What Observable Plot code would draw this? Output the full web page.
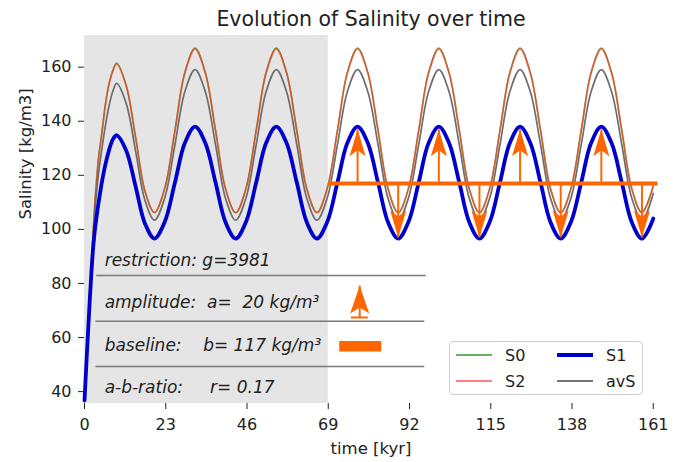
<!DOCTYPE html>
<html>
<head>
<meta charset="utf-8">
<script src="https://cdn.jsdelivr.net/npm/d3@7"></script>
<script src="https://cdn.jsdelivr.net/npm/@observablehq/plot@0.6"></script>
<style>
  body { margin: 0; background: white; }
  #wrap { position: relative; width: 686px; height: 462px; font-family: "DejaVu Sans", sans-serif; }
  svg text { white-space: pre; }
  #legend { position: absolute; left: 449px; top: 341px; width: 194px; height: 54px;
    border: 1px solid #cfcfcf; border-radius: 4px; background: rgba(255,255,255,0.85);
    box-sizing: border-box; font-size: 16px; color: #222; }
  .item { position: absolute; display: flex; align-items: center; height: 20px; }
  .item span.sw { display: inline-block; width: 36px; margin-right: 13px; }
</style>
</head>
<body>
<div id="wrap"></div>
<script>
// ---- data ----
const time = [0,0.5,1,1.5,2,2.5,3,3.5,4,5,6,7,8,9.1,11.8,14.5,17.1,
  19.8,22.7,25.6,28.4,31.3,34.2,37.1,39.9,
  42.8,45.7,48.6,51.4,54.3,57.2,60.1,62.9,
  65.8,68.7,71.6,74.4,77.3,80.2,83.1,85.9,
  88.8,91.7,94.6,97.4,100.3,103.2,106.1,108.9,
  111.8,114.7,117.6,120.4,123.3,126.2,129.1,131.9,
  134.8,137.7,140.6,143.4,146.3,149.2,152.1,154.9,
  157.8,161];

const S1 = [36.7,49.5,62,74,85,94,100.5,105.5,110,118,124.5,129.5,133.2,134.8,129.2,115.7,102.2,
  96.6,102.7,117.3,131.9,138.0,131.9,117.3,102.7,
  96.6,102.7,117.3,131.9,138.0,131.9,117.3,102.7,
  96.6,102.7,117.3,131.9,138.0,131.9,117.3,102.7,
  96.6,102.7,117.3,131.9,138.0,131.9,117.3,102.7,
  96.6,102.7,117.3,131.9,138.0,131.9,117.3,102.7,
  96.6,102.7,117.3,131.9,138.0,131.9,117.3,102.7,
  96.6,104.0];

const S2 = [36.7,50,62.5,75.5,88,100,111,119.5,126.5,136.5,147,154,158.5,161.1,153.1,133.7,114.2,
  106.2,115.1,136.5,157.8,166.7,157.8,136.5,115.1,
  106.2,115.1,136.5,157.8,166.7,157.8,136.5,115.1,
  106.2,115.1,136.5,157.8,166.7,157.8,136.5,115.1,
  106.2,115.1,136.5,157.8,166.7,157.8,136.5,115.1,
  106.2,115.1,136.5,157.8,166.7,157.8,136.5,115.1,
  106.2,115.1,136.5,157.8,166.7,157.8,136.5,115.1,
  106.2,116.0];

const S0 = [36.7,50,62.5,75.5,88,100,111,119.5,126.5,136.5,147,154.1,158.7,161.5,153.2,133.8,114.2,
  106.2,115.1,136.6,158.0,167.1,158.0,136.6,115.1,
  106.2,115.1,136.6,158.0,167.1,158.0,136.6,115.1,
  106.2,115.1,136.6,158.0,167.1,158.0,136.6,115.1,
  106.2,115.1,136.6,158.0,167.1,158.0,136.6,115.1,
  106.2,115.1,136.6,158.0,167.1,158.0,136.6,115.1,
  106.2,115.1,136.6,158.0,167.1,158.0,136.6,115.1,
  106.2,116.0];

const avS = [36.7,49.8,62.3,75,87,97.5,107.5,115,121,130.5,139,146,151,154,146.6,128.7,110.8,
  103.4,111.6,131.3,150.9,159.1,150.9,131.3,111.6,
  103.4,111.6,131.3,150.9,159.1,150.9,131.3,111.6,
  103.4,111.6,131.3,150.9,159.1,150.9,131.3,111.6,
  103.4,111.6,131.3,150.9,159.1,150.9,131.3,111.6,
  103.4,111.6,131.3,150.9,159.1,150.9,131.3,111.6,
  103.4,111.6,131.3,150.9,159.1,150.9,131.3,111.6,
  103.4,113.3];

const xTicks = [0,23,46,69,92,115,138,161];
const yTicks = [40,60,80,100,120,140,160];

// restricted period (shaded) and forcing annotation
const shadeStart = [0], shadeEnd = [69];
const baselineValue = 117;            // b
const baselineStart = [69], baselineEnd = [162.2];
const upTimes = [77.3,100.3,123.3,146.3], upTips = [137,137,137,137];
const downTimes = [88.8,111.8,134.8,157.8], downTips = [97,97,97,97];

// parameter box
const boxLabels = ["restriction: g=3981", "amplitude:  a=  20 kg/m³", "baseline:    b= 117 kg/m³", "a-b-ratio:     r= 0.17"];
const boxLabelY = [88.6, 73.1, 56.9, 41.5];
const boxLabelX = [5.7, 5.7, 5.7, 5.7];
const boxRuleY = [82.9, 66.0, 49.3];
const boxRuleX1 = [3.3, 3.1, 3.1], boxRuleX2 = [96.6, 96.2, 96.2];
// legend symbols in the box
const ampKey = {t: 77.9, from: 67.4, to: 79.2, barFrom: 75.4, barTo: 80.2};
const baseKey = {from: 72.1, to: 84.0, y: 56.8};

const title = "Evolution of Salinity over time";
const xLabel = "time [kyr]";
const yLabel = "Salinity [kg/m3]";

// ---- build ----
const rows = time.map((t, i) => ({t, S0: S0[i], S1: S1[i], S2: S2[i], avS: avS[i]}));
const ups = upTimes.map((t, i) => ({t, tip: upTips[i]}));
const downs = downTimes.map((t, i) => ({t, tip: downTips[i]}));
const box = boxLabels.map((label, i) => ({label, x: boxLabelX[i], y: boxLabelY[i]}));
const rules = boxRuleY.map((y, i) => ({y, x1: boxRuleX1[i], x2: boxRuleX2[i]}));
const shade = shadeStart.map((s, i) => ({s, e: shadeEnd[i]}));
const baseSeg = baselineStart.map((s, i) => ({s, e: baselineEnd[i], y: baselineValue}));

const orange = "#ff6600";
const headUp = {draw(ctx) { ctx.moveTo(0, 0); ctx.lineTo(8, 27); ctx.lineTo(0, 21); ctx.lineTo(-8, 27); ctx.closePath(); }};
const headDown = {draw(ctx) { ctx.moveTo(0, 0); ctx.lineTo(8, -27); ctx.lineTo(0, -21); ctx.lineTo(-8, -27); ctx.closePath(); }};
const headKey = {draw(ctx) { ctx.moveTo(0, 0); ctx.lineTo(9.5, 28); ctx.lineTo(0, 22); ctx.lineTo(-9.5, 28); ctx.closePath(); }};

const plot = Plot.plot({
  width: 686, height: 462,
  marginLeft: 84, marginRight: 29, marginTop: 35, marginBottom: 59,
  style: {fontFamily: "DejaVu Sans, sans-serif", fontSize: "16px", color: "#222", background: "white", overflow: "visible"},
  x: {domain: [0, 162.2], ticks: xTicks, tickSize: 6, tickPadding: 9, label: null},
  y: {domain: [35.6, 171.7], ticks: yTicks, tickSize: 6, tickPadding: 7, label: null},
  marks: [
    Plot.rect(shade, {x1: "s", x2: "e", fill: "#e5e5e5"}),
    Plot.link(rules, {x1: "x1", x2: "x2", y1: "y", y2: "y", stroke: "#7a7a7a", strokeWidth: 1.5}),
    Plot.text(box, {x: "x", y: "y", text: "label", textAnchor: "start", fontStyle: "italic", fontSize: 17, fill: "#222"}),
    Plot.line(rows, {x: "t", y: "S0", stroke: "green", strokeOpacity: 0.6, strokeWidth: 1.5, curve: "catmull-rom"}),
    Plot.line(rows, {x: "t", y: "S2", stroke: "#ff3010", strokeOpacity: 0.62, strokeWidth: 1.8, curve: "catmull-rom"}),
    Plot.line(rows, {x: "t", y: "avS", stroke: "#666", strokeOpacity: 0.95, strokeWidth: 1.7, curve: "catmull-rom"}),
    Plot.line(rows, {x: "t", y: "S1", stroke: "#0000cc", strokeWidth: 3.8, curve: "catmull-rom"}),
    Plot.link(baseSeg, {x1: "s", x2: "e", y1: "y", y2: "y", stroke: orange, strokeWidth: 4}),
    Plot.link(ups, {x1: "t", x2: "t", y1: () => baselineValue, y2: "tip", stroke: orange, strokeWidth: 2}),
    Plot.link(downs, {x1: "t", x2: "t", y1: () => baselineValue, y2: "tip", stroke: orange, strokeWidth: 2}),
    Plot.dot(ups, {x: "t", y: "tip", symbol: headUp, fill: orange, stroke: null}),
    Plot.dot(downs, {x: "t", y: "tip", symbol: headDown, fill: orange, stroke: null}),
    // amplitude key arrow
    Plot.link([ampKey], {x1: "t", x2: "t", y1: "from", y2: "to", stroke: orange, strokeWidth: 2}),
    Plot.link([ampKey], {x1: "barFrom", x2: "barTo", y1: "from", y2: "from", stroke: orange, strokeWidth: 2}),
    Plot.dot([ampKey], {x: "t", y: "to", symbol: headKey, fill: orange, stroke: null}),
    // baseline key bar
    Plot.link([baseKey], {x1: "from", x2: "to", y1: "y", y2: "y", stroke: orange, strokeWidth: 10.5}),
    // titles
    Plot.text([title], {frameAnchor: "top", dy: -10, lineAnchor: "bottom", fontSize: 20.5, fill: "#222"}),
    Plot.text([xLabel], {frameAnchor: "bottom", dy: 50, lineAnchor: "bottom", fontSize: 16.5, fill: "#222"}),
    Plot.text([yLabel], {frameAnchor: "left", dx: -58.3, rotate: -90, fontSize: 16.5, fill: "#222"})
  ]
});

const wrap = document.getElementById("wrap");
wrap.appendChild(plot);

// legend
const legendItems = [
  {name: "S0", color: "green", opacity: 0.6, width: 1.5, col: 0, row: 0},
  {name: "S1", color: "#0000cc", opacity: 1, width: 4, col: 1, row: 0},
  {name: "S2", color: "red", opacity: 0.5, width: 2, col: 0, row: 1},
  {name: "avS", color: "#666", opacity: 0.9, width: 2, col: 1, row: 1}
];
const lg = document.createElement("div");
lg.id = "legend";
for (const it of legendItems) {
  const d = document.createElement("div");
  d.className = "item";
  d.style.left = (it.col ? 107 : 6) + "px";
  d.style.top = (it.row ? 29 : 3) + "px";
  const sw = document.createElement("span");
  sw.className = "sw";
  sw.style.height = it.width + "px";
  sw.style.background = it.color;
  sw.style.opacity = it.opacity;
  d.appendChild(sw);
  const tx = document.createElement("span");
  tx.textContent = it.name;
  d.appendChild(tx);
  lg.appendChild(d);
}
wrap.appendChild(lg);
</script>
</body>
</html>
